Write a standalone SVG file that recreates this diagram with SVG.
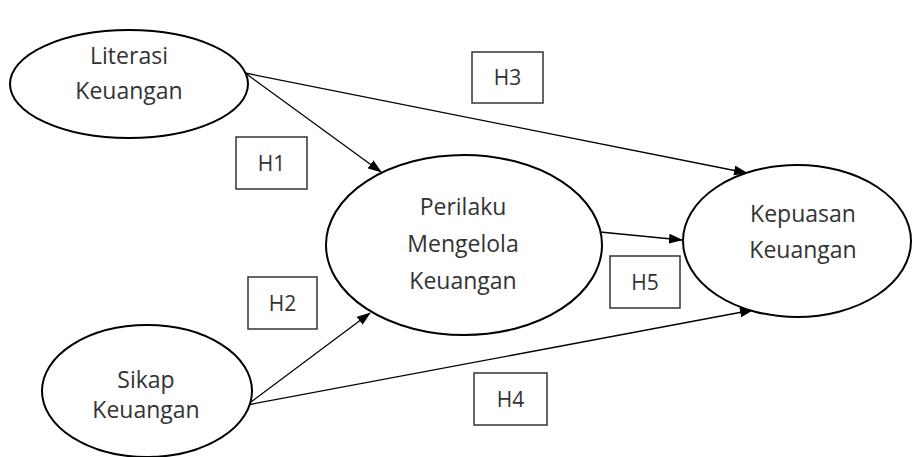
<svg xmlns="http://www.w3.org/2000/svg" width="913" height="457" viewBox="0 0 913 457">
<defs>
<marker id="arr" markerWidth="14" markerHeight="10" refX="13" refY="5" orient="auto" markerUnits="userSpaceOnUse">
<path d="M0,0 L14,5 L0,10 Z" fill="#000"/>
</marker>
<style>
.node ellipse{fill:#fff;stroke:#000;stroke-width:2}
.node text{font-family:"Open Sans","Liberation Sans",sans-serif;font-size:23px;fill:#333;text-anchor:middle}
.lbl rect{fill:#fff;stroke:#333;stroke-width:1.5}
.lbl text{font-family:"Open Sans","Liberation Sans",sans-serif;font-size:21px;fill:#333;text-anchor:middle}
.edge{stroke:#000;stroke-width:1.3;fill:none;marker-end:url(#arr)}
</style>
</defs>
<rect width="913" height="457" fill="#fff"/>
<g id="connectors">
<line class="edge" x1="245" y1="73" x2="381" y2="172"/>
<line class="edge" x1="245" y1="73" x2="747" y2="173"/>
<line class="edge" x1="600" y1="232" x2="682" y2="240"/>
<line class="edge" x1="247" y1="405" x2="370" y2="313"/>
<line class="edge" x1="247" y1="405" x2="753" y2="310"/>
</g>
<g id="literasi" class="node">
<ellipse cx="129" cy="84" rx="119" ry="54"/>
<text x="129" y="64">Literasi</text>
<text x="129" y="99">Keuangan</text>
</g>
<g id="sikap" class="node">
<ellipse cx="147" cy="391" rx="105" ry="66"/>
<text x="146" y="388">Sikap</text>
<text x="146" y="418">Keuangan</text>
</g>
<g id="perilaku" class="node">
<ellipse cx="464" cy="245" rx="138" ry="90"/>
<text x="463" y="215">Perilaku</text>
<text x="463" y="252">Mengelola</text>
<text x="463" y="289">Keuangan</text>
</g>
<g id="kepuasan" class="node">
<ellipse cx="797" cy="241" rx="114" ry="76"/>
<text x="803" y="222">Kepuasan</text>
<text x="803" y="258">Keuangan</text>
</g>
<g id="h1" class="lbl">
<rect x="236" y="137" width="71" height="52"/>
<text x="271.5" y="171">H1</text>
</g>
<g id="h2" class="lbl">
<rect x="248" y="277" width="69" height="52"/>
<text x="282.5" y="311">H2</text>
</g>
<g id="h3" class="lbl">
<rect x="472" y="52" width="71" height="51"/>
<text x="507.5" y="85">H3</text>
</g>
<g id="h4" class="lbl">
<rect x="474" y="373" width="73" height="52"/>
<text x="510.5" y="407">H4</text>
</g>
<g id="h5" class="lbl">
<rect x="610" y="256" width="70" height="52"/>
<text x="645" y="290">H5</text>
</g>
</svg>
